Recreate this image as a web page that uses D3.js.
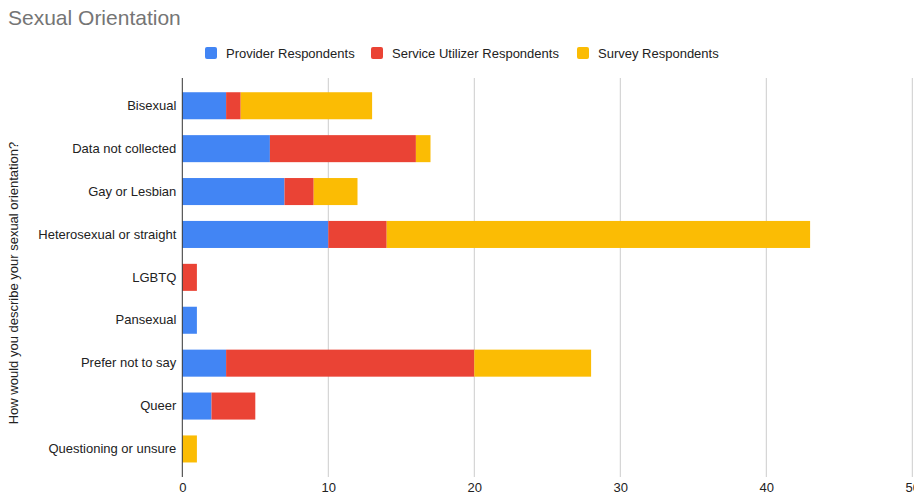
<!DOCTYPE html>
<html><head><meta charset="utf-8">
<script src="https://cdn.jsdelivr.net/npm/d3@7"></script>
<style>body{margin:0;background:#fff}svg{display:block;font-family:"Liberation Sans",Arial,sans-serif}</style>
</head><body><svg id="c" width="914" height="495"></svg>
<script>
const categories = ["Bisexual","Data not collected","Gay or Lesbian","Heterosexual or straight","LGBTQ","Pansexual","Prefer not to say","Queer","Questioning or unsure"];
const seriesNames = ["Provider Respondents","Service Utilizer Respondents","Survey Respondents"];
const provider = [3,6,7,10,0,1,3,2,0];
const serviceUtilizer = [1,10,2,4,1,0,17,3,0];
const survey = [9,1,3,29,0,0,8,0,1];
const xTicks = [0,10,20,30,40,50];
const colors = ["#4285F4","#EA4335","#FBBC04"];

const svg = d3.select("#c");
const x = d3.scaleLinear().domain([0,50]).range([182.3,912.3]);
const y = d3.scaleBand().domain(categories).range([84.3,470.4]).paddingInner(0.37).paddingOuter(0.185);

svg.append("text").attr("x",8).attr("y",25).attr("font-size",21).attr("fill","#757575").text("Sexual Orientation");

// gridlines
svg.append("g").selectAll("line").data(xTicks.slice(1)).join("line")
  .attr("x1",d=>x(d)).attr("x2",d=>x(d)).attr("y1",78).attr("y2",477)
  .attr("stroke","#cccccc").attr("stroke-width",1);

const rows = categories.map((c,i)=>({cat:c,provider:provider[i],service:serviceUtilizer[i],survey:survey[i]}));
const stack = d3.stack().keys(["provider","service","survey"])(rows);
svg.append("g").selectAll("g").data(stack).join("g").attr("fill",(d,i)=>colors[i])
  .selectAll("rect").data(d=>d.filter(p=>p[1]-p[0]>0)).join("rect")
  .attr("x",d=>x(d[0])).attr("width",d=>x(d[1])-x(d[0]))
  .attr("y",d=>y(d.data.cat)).attr("height",y.bandwidth());

// y axis line
svg.append("line").attr("x1",182.3).attr("x2",182.3).attr("y1",78).attr("y2",477).attr("stroke","#333").attr("stroke-width",1);

// category labels
const yAxis = d3.axisLeft(y).tickSize(0).tickPadding(6);
const ya = svg.append("g").attr("transform","translate(182.3,0)").call(yAxis);
ya.select(".domain").remove();
ya.selectAll("text").attr("font-size",13).attr("fill","#222").attr("font-family","Liberation Sans, Arial, sans-serif");

// x tick labels
const xAxis = d3.axisBottom(x).tickValues(xTicks).tickSize(0).tickPadding(7);
const xa = svg.append("g").attr("transform","translate(0,476)").call(xAxis);
xa.select(".domain").remove();
xa.selectAll("text").attr("font-size",13).attr("fill","#222").attr("font-family","Liberation Sans, Arial, sans-serif");

// y title
svg.append("text").attr("transform","translate(18,283) rotate(-90)").attr("text-anchor","middle")
  .attr("font-size",13).attr("fill","#222").text("How would you describe your sexual orientation?");

// legend
const legX = [205,371,577];
const lg = svg.append("g").selectAll("g").data(seriesNames).join("g").attr("transform",(d,i)=>`translate(${legX[i]},0)`);
lg.append("rect").attr("x",0).attr("y",47).attr("width",12).attr("height",12).attr("rx",2).attr("fill",(d,i)=>colors[i]);
lg.append("text").attr("x",21).attr("y",57.5).attr("font-size",13).attr("fill","#222").text(d=>d);
</script></body></html>
